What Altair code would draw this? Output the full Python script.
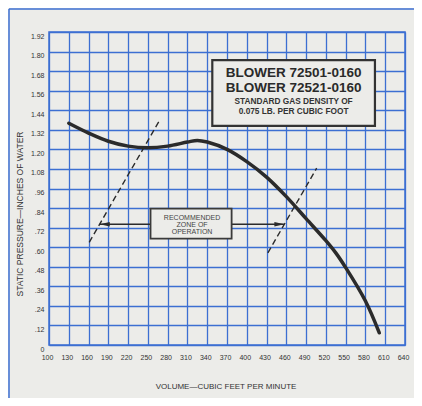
import altair as alt
import pandas as pd

# ---- data ----
cfm = [130, 160, 190, 220, 250, 280, 310, 325, 340, 370, 400, 430, 460, 490, 520, 535, 550, 580, 601]
pressure = [1.36, 1.30, 1.25, 1.22, 1.21, 1.22, 1.245, 1.255, 1.245, 1.20, 1.125, 1.03, 0.91, 0.775,
            0.64, 0.565, 0.475, 0.27, 0.075]

x_ticks = list(range(100, 641, 30))
y_ticks = [round(i * 0.12, 2) for i in range(17)]

zone_line = ["left", "left", "right", "right"]
zone_x = [161, 268, 432, 506]
zone_y = [0.63, 1.38, 0.565, 1.085]

arrow_side = ["left", "right"]
arrow_from = [254, 377]
arrow_tip = [177, 457]
arrow_level = [0.74, 0.74]

zone_box = {"x": [254], "x2": [377], "y": [0.836], "y2": [0.652]}
zone_text = ["RECOMMENDED", "ZONE OF", "OPERATION"]
zone_text_y = [0.7775, 0.7347, 0.6918]
zone_text_x = [317, 317, 317]

title_box = {"x": [347.7], "x2": [594.4], "y": [1.748], "y2": [1.344]}
title_lines = ["BLOWER 72501-0160", "BLOWER 72521-0160"]
title_lines_y = [1.667, 1.579]
sub_lines = ["STANDARD GAS DENSITY OF", "0.075 LB. PER CUBIC FOOT"]
sub_lines_y = [1.489, 1.428]
box_text_x = 471

x_title = "VOLUME—CUBIC FEET PER MINUTE"
y_title = "STATIC PRESSURE—INCHES OF WATER"

# ---- styling ----
BG = "#ecece9"
BLUE = "#3c6fd2"
INK = "#2b2b2b"
FONT = "Liberation Sans"

xs = alt.Scale(domain=[100, 640], nice=False, zero=False)
ys = alt.Scale(domain=[0, 1.92], nice=False, zero=False)

x_axis = alt.Axis(
    values=x_ticks, grid=True, gridColor=BLUE, gridWidth=1.3, gridOpacity=1,
    ticks=False, domain=False, labelFontSize=7, labelColor="#333", labelFont=FONT,
    labelPadding=8, labelFlush=False, labelOffset=-2, title=None)
y_axis = alt.Axis(
    values=y_ticks, grid=True, gridColor=BLUE, gridWidth=1.3, gridOpacity=1,
    ticks=False, domain=False, labelFontSize=7, labelColor="#333", labelFont=FONT,
    labelPadding=5, labelOffset=4, labelFlush=False, title=None,
    labelExpr="datum.value == 0 ? '0' : (datum.value < 1 ? substring(format(datum.value, '.2f'), 1) : format(datum.value, '.2f'))")


def X(f):
    return alt.X(f, scale=xs, axis=x_axis, title=None)


def Y(f):
    return alt.Y(f, scale=ys, axis=y_axis, title=None)


curve_df = pd.DataFrame({"cfm": cfm, "p": pressure})
curve = alt.Chart(curve_df).mark_line(color=INK, strokeWidth=3.5, interpolate="catmull-rom", strokeCap="round").encode(
    x=X("cfm:Q"), y=Y("p:Q"))

zone_df = pd.DataFrame({"line": zone_line, "x": zone_x, "y": zone_y})
zones = alt.Chart(zone_df).mark_line(color=INK, strokeWidth=1.4, strokeDash=[6, 3.5]).encode(
    x=X("x:Q"), y=Y("y:Q"), detail="line:N")

arrow_df = pd.DataFrame({"side": arrow_side, "a": arrow_from, "b": arrow_tip, "y": arrow_level})
arrow_lines = alt.Chart(arrow_df).mark_rule(color=INK, strokeWidth=1.5).encode(
    x=X("a:Q"), x2="b:Q", y=Y("y:Q"))
head_left = alt.Chart(arrow_df[arrow_df.side == "left"]).mark_point(
    shape="M0,0L4,-0.9L4,0.9Z", size=25, filled=True, color=INK, opacity=1).encode(
    x=X("b:Q"), y=Y("y:Q"))
head_right = alt.Chart(arrow_df[arrow_df.side == "right"]).mark_point(
    shape="M0,0L-4,-0.9L-4,0.9Z", size=25, filled=True, color=INK, opacity=1).encode(
    x=X("b:Q"), y=Y("y:Q"))

zbox = alt.Chart(pd.DataFrame(zone_box)).mark_rect(fill=BG, stroke="#3a3a3a", strokeWidth=1.8).encode(
    x=X("x:Q"), x2="x2:Q", y=Y("y:Q"), y2="y2:Q")
ztext = alt.Chart(pd.DataFrame({"t": zone_text, "x": zone_text_x, "y": zone_text_y})).mark_text(
    font=FONT, fontSize=7, color="#444", align="center", baseline="middle").encode(
    x=X("x:Q"), y=Y("y:Q"), text="t:N")

tbox = alt.Chart(pd.DataFrame(title_box)).mark_rect(fill=BG, stroke="#333", strokeWidth=2.2).encode(
    x=X("x:Q"), x2="x2:Q", y=Y("y:Q"), y2="y2:Q")
ttext = alt.Chart(pd.DataFrame({"t": title_lines, "y": title_lines_y, "x": [box_text_x] * 2})).mark_text(
    font=FONT, fontSize=13.5, fontWeight="bold", color="#2a2a2a", align="center", baseline="middle").encode(
    x=X("x:Q"), y=Y("y:Q"), text="t:N")
stext = alt.Chart(pd.DataFrame({"t": sub_lines, "y": sub_lines_y, "x": [box_text_x] * 2})).mark_text(
    font=FONT, fontSize=8.3, fontWeight="bold", color="#333", align="center", baseline="middle").encode(
    x=X("x:Q"), y=Y("y:Q"), text="t:N")

xt = alt.Chart(pd.DataFrame({"t": [x_title]})).mark_text(
    font=FONT, fontSize=8, color="#333", align="center", baseline="middle").encode(
    x=alt.value(177), y=alt.value(355), text="t:N")
yt = alt.Chart(pd.DataFrame({"t": [y_title]})).mark_text(
    font=FONT, fontSize=8.5, color="#333", align="center", baseline="middle", angle=270).encode(
    x=alt.value(-29), y=alt.value(182), text="t:N")

frame_left = alt.Chart(pd.DataFrame({"t": [0]})).mark_rule(color=BLUE, strokeWidth=1.5).encode(
    x=alt.value(-40), y=alt.value(-23), y2=alt.value(400))
frame_top = alt.Chart(pd.DataFrame({"t": [0]})).mark_rule(color=BLUE, strokeWidth=1.5).encode(
    x=alt.value(-40), x2=alt.value(400), y=alt.value(-23))

chart = alt.layer(
    curve, zones, arrow_lines, head_left, head_right, zbox, ztext, tbox, ttext, stext, xt, yt,
    frame_left, frame_top,
).properties(
    width=356, height=313,
    padding={"left": 41, "top": 24, "right": 9, "bottom": 53},
    autosize="none",
    background=BG,
).configure_view(stroke=BLUE, strokeWidth=1.5, fill=BG)

chart.save("out.html", embed_options={"renderer": "svg", "actions": False})
